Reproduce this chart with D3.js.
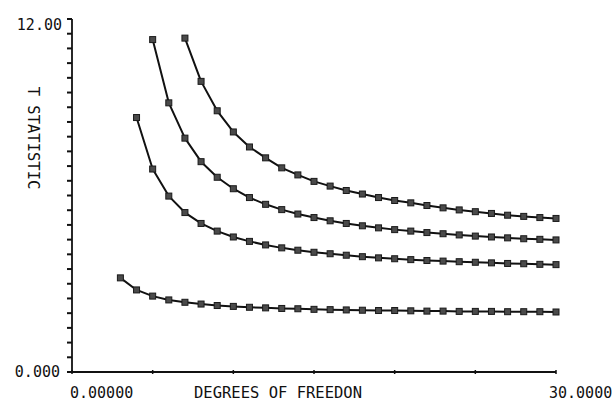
<!DOCTYPE html>
<html>
<head>
<meta charset="utf-8">
<script src="https://cdn.jsdelivr.net/npm/d3@7"></script>
<style>
  html, body { margin: 0; padding: 0; background: #fff; }
  text { font-family: "DejaVu Sans Mono", "Liberation Mono", monospace; fill: #111; }
</style>
</head>
<body>
<svg id="chart" width="615" height="402"></svg>
<script>
// ---- data ----
const dfA = [3,4,5,6,7,8,9,10,11,12,13,14,15,16,17,18,19,20,21,22,23,24,25,26,27,28,29,30];
const tA  = [3.20,2.79,2.58,2.45,2.37,2.31,2.26,2.23,2.20,2.18,2.16,2.15,2.13,2.12,2.11,2.10,2.09,2.09,2.08,2.07,2.07,2.06,2.06,2.06,2.05,2.05,2.05,2.04];

const dfB = [4,5,6,7,8,9,10,11,12,13,14,15,16,17,18,19,20,21,22,23,24,25,26,27,28,29,30];
const tB  = [8.65,6.90,5.98,5.42,5.05,4.79,4.59,4.44,4.32,4.22,4.14,4.07,4.02,3.97,3.92,3.88,3.85,3.82,3.79,3.77,3.75,3.73,3.71,3.69,3.68,3.66,3.65];

const dfC = [5,6,7,8,9,10,11,12,13,14,15,16,17,18,19,20,21,22,23,24,25,26,27,28,29,30];
const tC  = [11.30,9.15,7.95,7.15,6.62,6.23,5.93,5.70,5.52,5.37,5.25,5.14,5.05,4.97,4.90,4.84,4.79,4.74,4.70,4.66,4.62,4.59,4.56,4.53,4.51,4.49];

const dfD = [7,8,9,10,11,12,13,14,15,16,17,18,19,20,21,22,23,24,25,26,27,28,29,30];
const tD  = [11.35,9.88,8.88,8.16,7.65,7.28,6.94,6.70,6.48,6.32,6.17,6.05,5.93,5.83,5.75,5.66,5.58,5.51,5.45,5.39,5.33,5.29,5.25,5.22];

const xDomain = [0, 30];
const yDomain = [0, 12];
const yTickValues = d3.range(0, 24.5, 1).map(k => k / 2);
const xTickValues = [0, 5, 10, 15, 20, 25, 30];
const xTickLabels = ["0.00000", "30.0000"];
const yTickLabels = ["0.000", "12.00"];
const xTitle = "DEGREES OF FREEDON";
const yTitle = "T STATISTIC";

// ---- chart ----
const svg = d3.select("#chart");
const x = d3.scaleLinear().domain(xDomain).range([72, 556]);
const y = d3.scaleLinear().domain(yDomain).range([372, 19]);

const ink = "#111";

// axis lines
svg.append("line").attr("x1", x(0)).attr("x2", x(0)).attr("y1", y(12)).attr("y2", y(0))
  .attr("stroke", ink).attr("stroke-width", 1.8);
svg.append("line").attr("x1", x(0)).attr("x2", x(30)).attr("y1", y(0)).attr("y2", y(0))
  .attr("stroke", ink).attr("stroke-width", 1.8);

// y ticks every 0.5, pointing left
svg.append("g").selectAll("line").data(yTickValues).join("line")
  .attr("x1", x(0) - 5).attr("x2", x(0))
  .attr("y1", d => y(d)).attr("y2", d => y(d))
  .attr("stroke", ink).attr("stroke-width", 2);

// x ticks every 5, small
svg.append("g").selectAll("line").data(xTickValues).join("line")
  .attr("x1", d => x(d)).attr("x2", d => x(d))
  .attr("y1", y(0) - 2).attr("y2", y(0) + 2)
  .attr("stroke", ink).attr("stroke-width", 1.5);

// tick labels
svg.append("text").attr("x", x(0) - 12).attr("y", y(0)).attr("dy", "0.36em")
  .attr("text-anchor", "end").style("font-size", "15px").text(yTickLabels[0]);
svg.append("text").attr("x", x(0) - 10).attr("y", y(12) + 6).attr("dy", "0.36em")
  .attr("text-anchor", "end").style("font-size", "15px").text(yTickLabels[1]);
svg.append("text").attr("x", x(0) - 2).attr("y", 393).attr("dy", "0.36em")
  .attr("text-anchor", "start").style("font-size", "15px").text(xTickLabels[0]);
svg.append("text").attr("x", x(30) - 7).attr("y", 393).attr("dy", "0.36em")
  .attr("text-anchor", "start").style("font-size", "15px").text(xTickLabels[1]);

// titles
svg.append("text").attr("x", 278).attr("y", 392).attr("dy", "0.36em")
  .attr("text-anchor", "middle").style("font-size", "15.5px").text(xTitle);
svg.append("text").attr("transform", `translate(34,138) rotate(90)`).attr("dy", "0.36em")
  .attr("text-anchor", "middle").style("font-size", "15.5px").text(yTitle);

// series
const series = [
  { df: dfA, t: tA },
  { df: dfB, t: tB },
  { df: dfC, t: tC },
  { df: dfD, t: tD }
];
const line = d3.line().x(d => x(d[0])).y(d => y(d[1]));

series.forEach(s => {
  const pts = s.df.map((d, i) => [d, s.t[i]]);
  svg.append("path").datum(pts).attr("d", line)
    .attr("fill", "none").attr("stroke", ink).attr("stroke-width", 2)
    .attr("stroke-linejoin", "round");
  svg.append("g").selectAll("rect").data(pts).join("rect")
    .attr("x", d => x(d[0]) - 3).attr("y", d => y(d[1]) - 3)
    .attr("width", 6).attr("height", 6)
    .attr("fill", "#4a4a4a").attr("stroke", "#1a1a1a").attr("stroke-width", 1);
});
</script>
</body>
</html>
